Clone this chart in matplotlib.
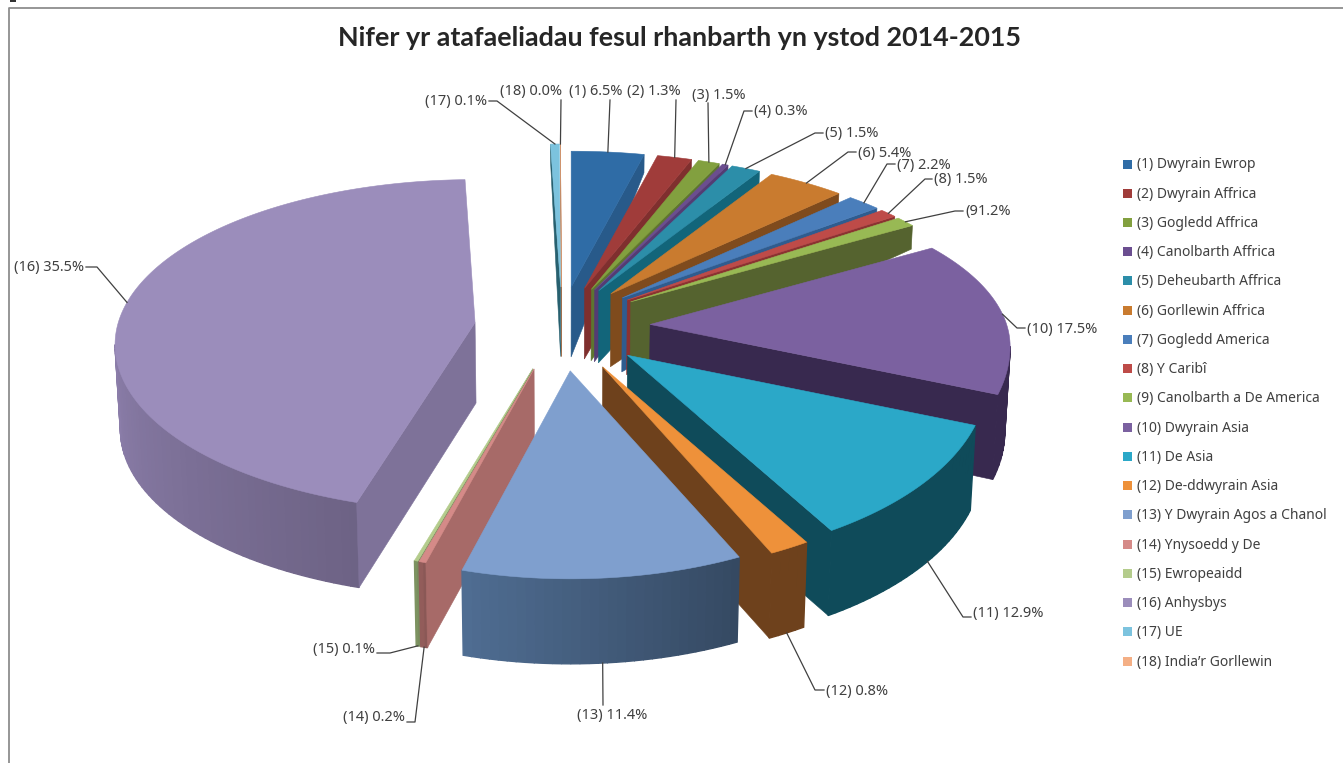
import numpy as np
import matplotlib
matplotlib.use("Agg")
import matplotlib.pyplot as plt
from matplotlib.patches import Polygon, Rectangle

# Teitl a chategoriau
title = "Nifer yr atafaeliadau fesul rhanbarth yn ystod 2014-2015"
regions = ["(1) Dwyrain Ewrop", "(2) Dwyrain Affrica", "(3) Gogledd Affrica",
           "(4) Canolbarth Affrica", "(5) Deheubarth Affrica", "(6) Gorllewin Affrica",
           "(7) Gogledd America", "(8) Y Caribî", "(9) Canolbarth a De America",
           "(10) Dwyrain Asia", "(11) De Asia", "(12) De-ddwyrain Asia",
           "(13) Y Dwyrain Agos a Chanol", "(14) Ynysoedd y De", "(15) Ewropeaidd",
           "(16) Anhysbys", "(17) UE", "(18) India’r Gorllewin"]
values = [6.5, 1.3, 1.5, 0.3, 1.5, 5.4, 2.2, 1.5, 1.2, 17.5, 12.9, 0.8, 11.4, 0.2, 0.1, 35.5, 0.1, 0.0]
slice_labels = ["(1) 6.5%", "(2) 1.3%", "(3) 1.5%", "(4) 0.3%", "(5) 1.5%", "(6) 5.4%",
                "(7) 2.2%", "(8) 1.5%", "(91.2%", "(10) 17.5%", "(11) 12.9%", "(12) 0.8%",
                "(13) 11.4%", "(14) 0.2%", "(15) 0.1%", "(16) 35.5%", "(17) 0.1%", "(18) 0.0%"]

# Lliwiau: top, ochr
top_colors = ["#2F6CA6", "#A03C3A", "#82A03F", "#6B4E90", "#2C8EA9", "#C97B2F", "#4A7EBB", "#BE4B48",
              "#98B954", "#7B61A0", "#2BA8C8", "#EE913A", "#7F9FCE", "#D58A88", "#B4CC8C", "#9B8DBB",
              "#7CC3DE", "#F4AF85"]
side_colors = ["#285A8A", "#7F2F2E", "#5E7530", "#543C73", "#12657A", "#7F4B1D", "#2F5C8F", "#8B3231",
               "#55632F", "#38294F", "#0F4B5A", "#6E411C", "#42607F", "#A76A68", "#7A8F5F", "#7E7299",
               "#27606F", "#A0704F"]
wall_colors = {9: "#38294F", 10: "#0F4B5A", 11: "#6E411C", 12: "#425B7A", 13: "#8E5A58",
               14: "#7A8F5F", 15: "#7C7097"}
wall_contrast = {9: 0, 10: 0, 11: 0, 12: 0.2, 15: 0.12}

# Golwg y pei (perspective fudge)
center = (562, 329)
explode = (90, 42)
radius_x = 360
radius_back_right = 158
radius_back_left = 165
radius_front = 186
rim_drop = 22
warp_pct = [0, 6.5, 7.8, 9.3, 11.1, 16.5, 18.7, 20.2, 21.4, 38.9, 51.8, 52.6, 64.0, 64.3, 99.8, 99.9, 100]
warp_deg = [0, 11.7, 17.3, 20.8, 26.5, 39.3, 45, 48, 51.5, 105, 145.5, 152, 197.5, 199.2, 358.4, 359.8, 360]
apex_nudge = {9: (0, 4), 10: (-8, 2), 11: (-6, 2), 15: (2, 0)}
depth_y = [150, 230, 290, 340]
depth_px = [18, 24, 72, 85]

label_xy = [(569, 92), (627, 92), (692, 95), (754, 112), (825, 134), (858, 153), (897, 165), (934, 180),
            (965, 212), (1027, 329), (973, 613), (826, 691), (577, 715), (343, 718), (313, 650), (14, 268),
            (425, 102), (500, 92)]
leader_via = [[(610, 100)], [(676, 100)], [(708, 103)], [(752, 111), (744, 111)], [(823, 133), (815, 133)],
              [(856, 152), (848, 152)], [(895, 164), (887, 164)], [(932, 179), (925, 179)],
              [(963, 211), (955, 211)], [(1025, 328), (1017, 328)], [(971, 617), (963, 617)],
              [(824, 690), (815, 690)], [(603, 705)], [(407, 722), (415, 722)], [(377, 653), (390, 653)],
              [(86, 267), (97, 267)], [(489, 101), (497, 101)], [(561, 100)]]
leader_shift = {10: -3, 15: 6}

back_to_front = [16, 17, 0, 1, 2, 3, 4, 5, 6, 7, 8, 15, 9, 10, 11, 14, 13, 12]

cum = np.concatenate([[0], np.cumsum(values)])
start_deg = np.interp(cum[:-1], warp_pct, warp_deg)
end_deg = np.interp(cum[1:], warp_pct, warp_deg)
mid_deg = (start_deg + end_deg) / 2


def apex(i):
    m = np.radians(mid_deg[i])
    nx, ny = apex_nudge.get(i, (0, 0))
    return center[0] + explode[0] * np.sin(m) + nx, center[1] - explode[1] * np.cos(m) + ny


def rim(i, deg):
    ax0, ay0 = apex(i)
    t = np.radians(deg)
    front = radius_front + 19 * min(0, np.sin(np.radians(mid_deg[i])))
    back = radius_back_right if mid_deg[i] < 180 else radius_back_left
    ry = np.where(np.cos(t) > 0, back, front)
    return ax0 + radius_x * np.sin(t), ay0 + rim_drop - ry * np.cos(t)


def lower(x, y):
    h = np.interp(y, depth_y, depth_px)
    return x + (center[0] - x) * 0.012 * h / 85, y + h


def shade(color, f):
    rgb = np.array(matplotlib.colors.to_rgb(color))
    return tuple(np.clip(rgb * f, 0, 1))


fig = plt.figure(figsize=(13.43, 7.63), dpi=100)
ax = fig.add_axes([0, 0, 1, 1])
ax.set_xlim(0, 1343)
ax.set_ylim(763, 0)
ax.axis("off")

# ffram y siart
ax.plot([8.5, 8.5, 1343], [763, 7.5, 7.5], color="#8E8E8E", lw=1.3, zorder=1)
ax.add_patch(Rectangle((10, 0), 6, 1.5, fc="#333333", ec="none", zorder=1))

for i in back_to_front:
    a, b = start_deg[i], end_deg[i]
    ax0, ay0 = apex(i)
    ax1, ay1 = lower(ax0, ay0)

    # wal allanol
    lo, hi = max(a, 90), min(b, 270)
    if hi > lo and i in wall_colors:
        steps = np.linspace(lo, hi, max(2, int((hi - lo) * 0.7)) + 1)
        contrast = wall_contrast.get(i, 0.05)
        for k in range(len(steps) - 1):
            x0, y0 = rim(i, steps[k])
            x1, y1 = rim(i, steps[k + 1])
            x2, y2 = lower(x1, y1)
            x3, y3 = lower(x0, y0)
            f = 1 + contrast * (2 * (k + 0.5) / (len(steps) - 1) - 1)
            c = shade(wall_colors[i], f)
            ax.add_patch(Polygon([(x0, y0), (x1, y1), (x2, y2), (x3, y3)], fc=c, ec=c, lw=1.0, zorder=2))

    # wyneb rheiddiol
    for deg, seen in ((a, 180 <= a < 360), (b, 0 < b < 180)):
        if seen:
            rx0, ry0 = rim(i, deg)
            rx1, ry1 = lower(rx0, ry0)
            ax.add_patch(Polygon([(ax0, ay0), (rx0, ry0), (rx1, ry1), (ax1, ay1)],
                                 fc=side_colors[i], ec=side_colors[i], lw=0.4, zorder=2))

    # wyneb uchaf
    arc = np.linspace(a, b, max(2, int(b - a) * 2 + 2))
    xs, ys = rim(i, arc)
    ax.add_patch(Polygon(np.vstack([[ax0, ay0], np.column_stack([xs, ys])]),
                         fc=top_colors[i], ec=top_colors[i], lw=0.4, zorder=2))

# labeli a llinellau arwain
for i, label in enumerate(slice_labels):
    ax.text(label_xy[i][0], label_xy[i][1], label, fontsize=10.5, family="Noto Sans", color="#404040",
            ha="left", va="center", zorder=4)
    px, py = rim(i, mid_deg[i] + leader_shift.get(i, 0))
    if 90 < mid_deg[i] < 270:
        px, py = lower(px, py)
    line = leader_via[i] + [(float(px), float(py))]
    ax.plot([p[0] for p in line], [p[1] for p in line], color="#404040", lw=0.9, zorder=3)

# allwedd
for i, name in enumerate(regions):
    y = 164 + i * 29.24
    ax.add_patch(Rectangle((1123, y - 4.5), 9, 9, fc=top_colors[i], ec="none", zorder=3))
    ax.text(1137, y + 1, name, fontsize=10, family="Noto Sans", color="#404040", ha="left", va="center")

ax.text(679.5, 38.5, title, fontsize=19.35, family="Lato", fontweight="bold", color="#262626", ha="center", va="center")

fig.savefig("out.png", dpi=100, facecolor="white")
